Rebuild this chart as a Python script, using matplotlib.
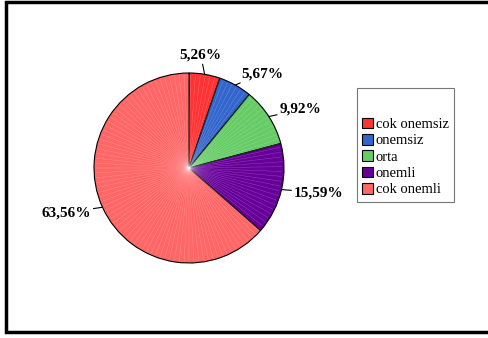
import numpy as np
import matplotlib.pyplot as plt
from matplotlib.patches import Rectangle

categories = ['cok onemsiz', 'onemsiz', 'orta', 'onemli', 'cok onemli']
values = [5.26, 5.67, 9.92, 15.59, 63.56]
labels = ['5,26%', '5,67%', '9,92%', '15,59%', '63,56%']
colors = ['#FF3333', '#3366CC', '#66CC66', '#660099', '#FF6666']

W, H = 489, 338
fig = plt.figure(figsize=(W / 100, H / 100), dpi=100)
ax = fig.add_axes([0, 0, 1, 1])

cx, cy, r = 189, H - 168, 95

wedges, _ = ax.pie(values, colors=colors, startangle=90, counterclock=False,
                   center=(cx, cy), radius=r, frame=True,
                   wedgeprops=dict(edgecolor='black', linewidth=0.8))
ax.set_xlim(0, W)
ax.set_ylim(0, H)
ax.axis('off')

# faint radial streaks like the original rendering
for w in wedges:
    for a in np.arange(w.theta1, w.theta2, 3.0):
        t = np.deg2rad(a)
        ax.plot([cx, cx + r * 0.98 * np.cos(t)], [cy, cy + r * 0.98 * np.sin(t)],
                color='white', lw=0.3, alpha=0.3)

# short leader lines, labels just outside the rim
for w, lab in zip(wedges, labels):
    mid = np.deg2rad((w.theta1 + w.theta2) / 2)
    ex, ey = cx + r * np.cos(mid), cy + r * np.sin(mid)
    tx, ty = cx + (r + 13) * np.cos(mid), cy + (r + 13) * np.sin(mid)
    ha, va = 'center', 'center'
    if np.cos(mid) > 0.3:
        ha = 'left'
    elif np.cos(mid) < -0.3:
        ha = 'right'
    else:
        va = 'bottom'
        tx -= 6
    ax.annotate(lab, xy=(ex, ey), xytext=(tx, ty), ha=ha, va=va,
                fontsize=11, fontweight='bold', family='Liberation Serif',
                arrowprops=dict(arrowstyle='-', color='black', lw=0.8,
                                shrinkA=0, shrinkB=0))

# legend
handles = [Rectangle((0, 0), 1, 1, facecolor=c, edgecolor='black', lw=0.8) for c in colors]
leg = fig.legend(handles, categories, loc='upper left',
                 bbox_to_anchor=(357 / W, 1 - 88 / H), frameon=True,
                 prop={'family': 'Liberation Serif', 'size': 10.5},
                 handlelength=0.75, handleheight=0.75, handletextpad=0.2,
                 labelspacing=0.2, borderpad=0.35, fancybox=False,
                 title='\n', title_fontsize=7, borderaxespad=0)
leg.get_frame().set_edgecolor('#555555')
leg.get_frame().set_linewidth(0.8)

# outer border: left, top, bottom
ax.plot([W, 6, 6, W], [H - 2, H - 2, H - 332, H - 332], color='black', lw=2.5,
        solid_joinstyle='miter')

fig.savefig('out.png', dpi=100)
